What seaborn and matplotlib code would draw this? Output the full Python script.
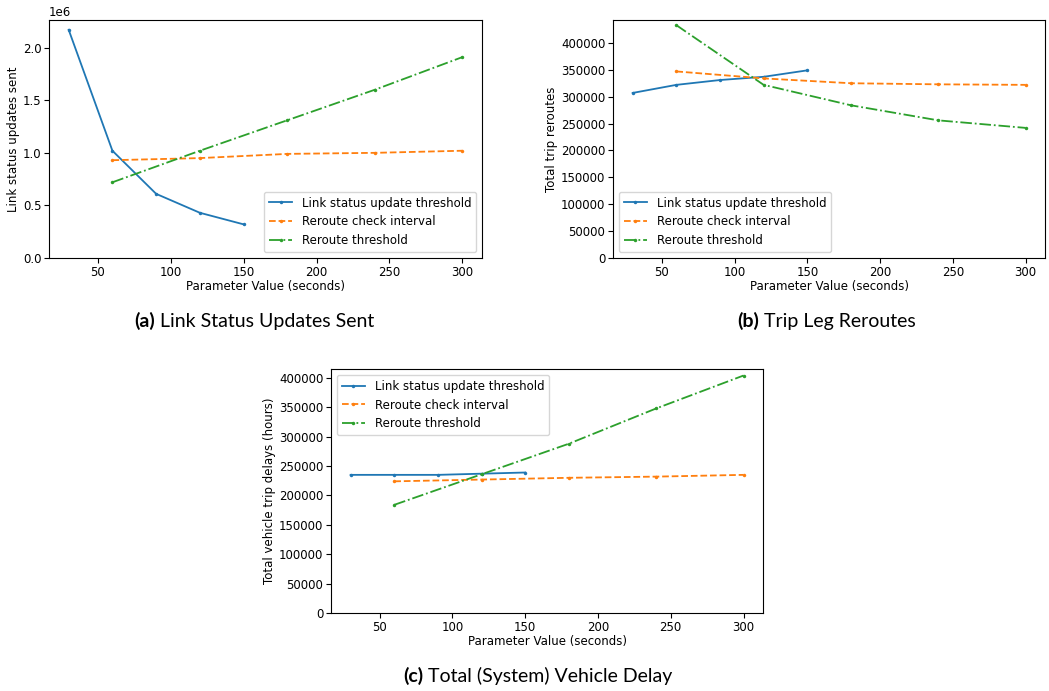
import matplotlib
matplotlib.use("Agg")
import matplotlib.pyplot as plt
from matplotlib.text import Annotation
import seaborn as sns

# parameter values (seconds)
x_lsu = [30, 60, 90, 120, 150]
x_rci = [60, 120, 180, 240, 300]
x_rt = [60, 120, 180, 240, 300]

# (a) link status updates sent
upd_lsu = [2.17e6, 1.02e6, 0.61e6, 0.43e6, 0.32e6]
upd_rci = [0.93e6, 0.95e6, 0.99e6, 1.00e6, 1.02e6]
upd_rt = [0.72e6, 1.02e6, 1.31e6, 1.60e6, 1.91e6]

# (b) trip leg reroutes
rer_lsu = [307000, 322000, 331000, 337000, 349000]
rer_rci = [347000, 334000, 325000, 323000, 322000]
rer_rt = [433000, 322000, 284000, 256000, 242000]

# (c) total vehicle delay (hours)
del_lsu = [235000, 235000, 235000, 237000, 239000]
del_rci = [224000, 227000, 230000, 232000, 235000]
del_rt = [184000, 236000, 288000, 348000, 404000]

labels = ["Link status update threshold", "Reroute check interval", "Reroute threshold"]
colors = sns.color_palette("tab10", 3)
styles = ["-", "--", "-."]

FS = 8.5
plt.rcParams["font.family"] = "DejaVu Sans"
plt.rcParams["font.size"] = FS


def draw(ax, ys, ylabel, legend_loc):
    xs = [x_lsu, x_rci, x_rt]
    for i in range(3):
        sns.lineplot(x=xs[i], y=ys[i], ax=ax, label=labels[i], color=colors[i],
                     linestyle=styles[i], marker=".", markersize=5, markeredgewidth=0,
                     linewidth=1.3)
    ax.set_ylim(bottom=0)
    ax.set_xlabel("Parameter Value (seconds)", fontsize=FS, labelpad=1)
    ax.set_ylabel(ylabel, fontsize=FS, labelpad=2)
    ax.tick_params(labelsize=FS, pad=2)
    ax.legend(loc=legend_loc, fontsize=FS)


def caption(x, y, tag, text):
    # bold "(x)" followed by the regular caption text
    t = fig.text(x, y, tag, fontsize=14, fontweight="bold", family="Lato",
                 ha="left", va="baseline")
    fig.add_artist(Annotation(" " + text, xy=(1, 0), xycoords=t, fontsize=14,
                              family="Lato", ha="left", va="bottom"))


fig = plt.figure(figsize=(10.49, 6.91), dpi=100)
ax_a = fig.add_axes([0.0467, 0.6266, 0.4128, 0.3444])
ax_b = fig.add_axes([0.5844, 0.6266, 0.412, 0.3444])
ax_c = fig.add_axes([0.3155, 0.1129, 0.412, 0.353])

draw(ax_a, [upd_lsu, upd_rci, upd_rt], "Link status updates sent", "lower right")
draw(ax_b, [rer_lsu, rer_rci, rer_rt], "Total trip reroutes", "lower left")
draw(ax_c, [del_lsu, del_rci, del_rt], "Total vehicle trip delays (hours)", "upper left")

caption(134 / 1049, 1 - 327 / 691, "(a)", "Link Status Updates Sent")
caption(737 / 1049, 1 - 327 / 691, "(b)", "Trip Leg Reroutes")
caption(403 / 1049, 1 - 682 / 691, "(c)", "Total (System) Vehicle Delay")

fig.savefig("out.png", dpi=100)
